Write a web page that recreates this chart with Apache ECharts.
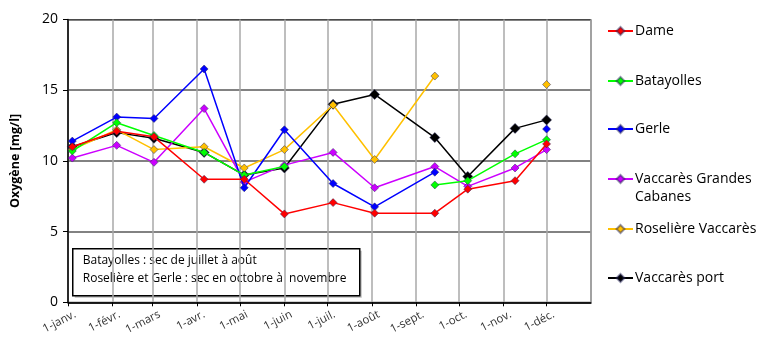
<!DOCTYPE html>
<html><head><meta charset="utf-8">
<script src="https://cdn.jsdelivr.net/npm/echarts@6/dist/echarts.min.js"></script>
<style>html,body{margin:0;padding:0;background:#fff}#c{width:771px;height:342px}</style>
</head><body><div id="c"></div>
<script>
// sampling dates (one per month)
const dates = ['2009-01-04','2009-02-04','2009-03-02','2009-04-06','2009-05-04','2009-06-01','2009-07-05','2009-08-03','2009-09-14','2009-10-07','2009-11-09','2009-12-01'];
const monthLabels = ['1-janv.','1-févr.','1-mars','1-avr.','1-mai','1-juin','1-juil.','1-août','1-sept.','1-oct.','1-nov.','1-déc.'];
const seriesNames = ['Dame','Batayolles','Gerle','Vaccarès Grandes Cabanes','Roselière Vaccarès','Vaccarès port'];
const dame        = [11.0, 12.1, 11.7, 8.7, 8.7, 6.25, 7.05, 6.3, 6.3, 8.0, 8.6, 11.2];
const batayolles  = [10.7, 12.7, 11.8, 10.6, 9.0, 9.6, null, null, 8.3, 8.6, 10.5, 11.5];
const gerle       = [11.4, 13.1, 13.0, 16.5, 8.1, 12.2, 8.4, 6.75, 9.2, null, null, 12.25];
const grandesCab  = [10.2, 11.1, 9.9, 13.7, 8.5, 9.7, 10.6, 8.1, 9.6, 8.2, 9.5, 10.8];
const roseliere   = [10.8, 12.2, 10.8, 11.0, 9.5, 10.8, 13.95, 10.1, 16.0, null, null, 15.4];
const port        = [11.0, 12.0, 11.6, 10.6, 9.0, 9.5, 14.0, 14.7, 11.65, 8.9, 12.3, 12.9];
const yTicks = {min: 0, max: 20, interval: 5};
const annotation = ['Batayolles : sec de juillet à août', 'Roselière et Gerle : sec en octobre à  novembre'];

const colors = ['#ff0000','#00ff00','#0000ff','#cc00ff','#ffc000','#000000'];
const values = [dame, batayolles, gerle, grandesCab, roseliere, port];
function ts(s){const p=s.split('-').map(Number);return Date.UTC(p[0],p[1]-1,p[2]);}
const xMin = Date.UTC(2009,0,1), xMax = Date.UTC(2010,0,1);
const FONT = 'Open Sans';

const series = seriesNames.map((n,i)=>({
  name:n, type:'line', connectNulls:false,
  data: dates.map((d,j)=>[ts(d), values[i][j]]),
  symbol:'diamond', symbolSize: i===5?10:8,
  lineStyle:{color:colors[i], width:1.5},
  itemStyle:{color:colors[i], borderColor:'rgba(40,40,90,0.5)', borderWidth:1},
  emphasis:{disabled:true}, animation:false, z: 10-i
}));

const legendY = [31,81,129,179,229,278];
const legends = seriesNames.map((n,i)=>{
  const multi = n==='Vaccarès Grandes Cabanes';
  return {
    data:[n], orient:'vertical', left:607, top: legendY[i] - (multi?27:9), padding:0,
    itemWidth:25, itemHeight:10, selectedMode:false,
    formatter: multi ? ()=>'\nVaccarès Grandes\nCabanes' : undefined,
    textStyle:{fontFamily:FONT, fontSize:14, color:'#000', lineHeight:18, padding:[0,0,0,-3]}
  };
});

const chart = echarts.init(document.getElementById('c'), null, {renderer:'canvas'});
chart.setOption({
  useUTC:true, animation:false,
  grid:{left:68, right:180, top:19.5, bottom:39.7, show:true, borderColor:'#222', borderWidth:1, backgroundColor:'transparent'},
  legend: legends,
  xAxis:{type:'time', min:xMin, max:xMax, splitNumber:12,
    axisLine:{lineStyle:{color:'#000', width:1.5}},
    axisTick:{show:true, length:4, lineStyle:{color:'#000'}},
    splitLine:{show:true, lineStyle:{color:'#a8a8a8', width:1.5}},
    axisLabel:{rotate:27, fontFamily:FONT, fontSize:11.5, color:'#333', showMaxLabel:false, margin:15, padding:[0,-8,0,0],
      formatter:(v)=>{const d=new Date(v); if(d.getUTCFullYear()!==2009) return ''; return monthLabels[d.getUTCMonth()];}}
  },
  yAxis:{type:'value', min:yTicks.min, max:yTicks.max, interval:yTicks.interval,
    name:'Oxygène [mg/l]', nameLocation:'middle', nameGap:46, nameRotate:90,
    nameTextStyle:{fontFamily:FONT, fontSize:12.5, fontWeight:'bold', color:'#000'},
    axisLine:{show:true, lineStyle:{color:'#000', width:1.5}},
    axisTick:{show:true, length:5, lineStyle:{color:'#000'}},
    splitLine:{show:true, lineStyle:{color:'#595959', width:1.5}},
    axisLabel:{fontFamily:FONT, fontSize:14, color:'#000', margin:10}
  },
  graphic:[{type:'group', left:72, top:248, z:100, children:[
    {type:'rect', shape:{x:2,y:2,width:287,height:47}, style:{fill:'#bfbfbf'}},
    {type:'rect', shape:{x:0,y:0,width:287,height:47}, style:{fill:'#fff', stroke:'#000', lineWidth:1.5}},
    {type:'text', x:10, y:6, style:{text:annotation[0], fontFamily:FONT, fontSize:12, fill:'#000'}},
    {type:'text', x:10, y:24, style:{text:annotation[1], fontFamily:FONT, fontSize:12, fill:'#000'}}
  ]}],
  series: series
});
</script></body></html>
